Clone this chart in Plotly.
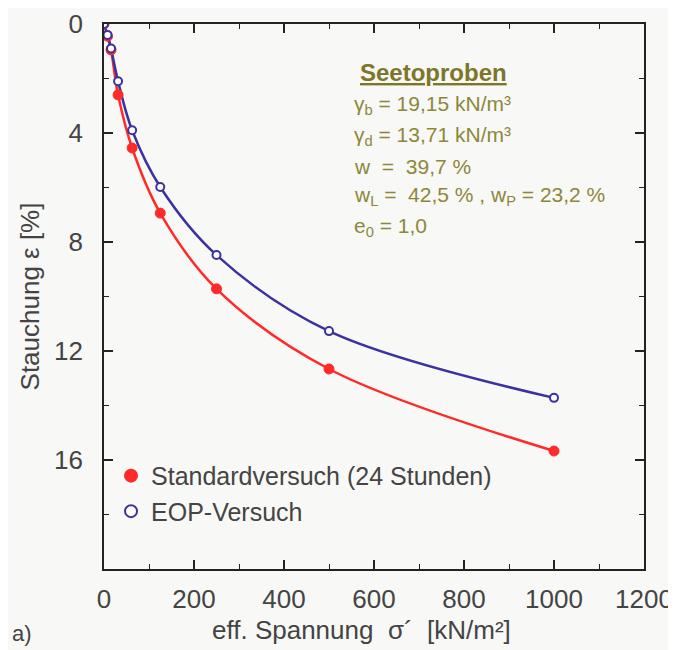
import plotly.graph_objects as go

# data
stress = [0, 7.8, 15.6, 31.25, 62.5, 125, 250, 500, 1000]
strain_std = [0, 0.45, 0.95, 2.6, 4.55, 6.94, 9.72, 12.66, 15.67]
strain_eop = [0, 0.4, 0.9, 2.1, 3.9, 5.98, 8.48, 11.27, 13.72]

x_ticks = [0, 200, 400, 600, 800, 1000, 1200]
y_ticks = [0, 4, 8, 12, 16]

RED = "#ff2a2a"
BLUE = "#3b32a0"
OLIVE = "#8c8838"
TXT = "#444444"
FONT = "Liberation Sans, Arial, sans-serif"

# page body has an 8px default margin; compensate so the plot lands at page px (104..644, 24..569)
OFF = 8
PL, PR, PT, PB = 104, 644, 24, 569

fig = go.Figure()
fig.add_trace(go.Scatter(x=stress, y=strain_std, mode="lines", line=dict(color=RED, width=2.5, shape="spline"),
                         showlegend=False, hoverinfo="skip"))
fig.add_trace(go.Scatter(x=stress, y=strain_eop, mode="lines", line=dict(color=BLUE, width=2.5, shape="spline"),
                         showlegend=False, hoverinfo="skip"))
fig.add_trace(go.Scatter(x=stress, y=strain_std, mode="markers", name="Standardversuch (24 Stunden)",
                         marker=dict(color=RED, size=10, symbol="circle", line=dict(color=RED, width=1))))
fig.add_trace(go.Scatter(x=stress, y=strain_eop, mode="markers", name="EOP-Versuch",
                         marker=dict(color="#ffffff", size=8, symbol="circle", line=dict(color=BLUE, width=2))))

axis_common = dict(showline=True, linecolor="#222222", linewidth=1.6, mirror="ticks", ticks="inside",
                   ticklen=9, tickwidth=1.6, tickcolor="#222222", showgrid=False, zeroline=False,
                   tickfont=dict(family=FONT, size=26, color=TXT))

fig.update_xaxes(range=[0, 1200], tickvals=x_ticks, ticktext=[str(v) for v in x_ticks],
                 minor=dict(dtick=100, ticks="inside", ticklen=5, tickwidth=1.4, tickcolor="#222222"),
                 ticklabelstandoff=6,
                 **axis_common)
fig.update_yaxes(range=[20, 0], tickvals=y_ticks, ticktext=[str(v) for v in y_ticks],
                 minor=dict(dtick=2, ticks="inside", ticklen=5, tickwidth=1.4, tickcolor="#222222"),
                 title=dict(text="Stauchung ε [%]", font=dict(family=FONT, size=26, color=TXT), standoff=7),
                 ticklabelstandoff=14,
                 **axis_common)

def px2paper(px, py):
    return (px - PL) / float(PR - PL), (PB - py) / float(PB - PT)

anns = [
    ("<b><u>Seetoproben</u></b>", 433, 72, "center", 24, "#7d7528"),
    ("γ<sub>b</sub> = 19,15 kN/m³", 352, 105, "left", 21, OLIVE),
    ("γ<sub>d</sub> = 13,71 kN/m³", 352, 136, "left", 21, OLIVE),
    ("w  =  39,7 %", 352, 166, "left", 21, OLIVE),
    ("w<sub>L</sub> =  42,5 % , w<sub>P</sub> = 23,2 %", 352, 196, "left", 21, OLIVE),
    ("e<sub>0</sub> = 1,0", 352, 227, "left", 21, OLIVE),
    ("eff. Spannung  σ´  [kN/m²]", 361, 630, "center", 26, TXT),
    ("a)", 10, 633, "left", 22, TXT),
]
for text, px, py, anchor, size, col in anns:
    xf, yf = px2paper(px, py)
    fig.add_annotation(text=text, x=xf, y=yf, xref="paper", yref="paper", xanchor=anchor, yanchor="middle",
                       showarrow=False, font=dict(family=FONT, size=size, color=col))

fig.update_layout(
    width=676 - OFF, height=650 - OFF,
    margin=dict(l=PL - OFF, r=676 - PR, t=PT - OFF, b=650 - PB, autoexpand=False),
    paper_bgcolor="#f8f8f6", plot_bgcolor="#f8f8f6",
    font=dict(family=FONT, color=TXT),
    legend=dict(x=0.013, y=0.213, xanchor="left", yanchor="top", bgcolor="rgba(0,0,0,0)",
                font=dict(family=FONT, size=25), tracegroupgap=0, itemsizing="constant"),
)

fig.write_html("out.html")
